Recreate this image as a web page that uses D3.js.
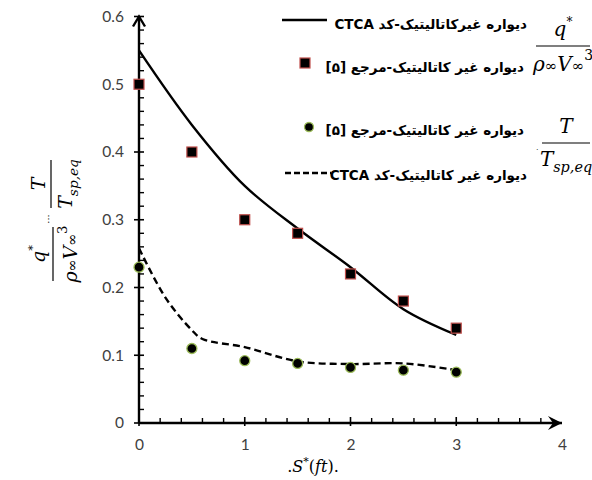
<!DOCTYPE html>
<html><head><meta charset="utf-8">
<script src="https://cdn.jsdelivr.net/npm/d3@7"></script>
<style>body{margin:0;background:#fff}</style>
</head><body>
<svg id="c" width="592" height="480"></svg>
<script>
// Data
const sValues = [0, 0.5, 1, 1.5, 2, 2.5, 3];
const refHeatFlux = [0.5, 0.4, 0.3, 0.28, 0.22, 0.18, 0.14];
const refTemp = [0.23, 0.11, 0.092, 0.088, 0.082, 0.078, 0.075];
const ctcaHeatX = [0, 0.5, 1, 1.5, 2, 2.5, 3];
const ctcaHeatY = [0.55, 0.44, 0.35, 0.287, 0.23, 0.168, 0.13];
const ctcaTempX = [0, 0.25, 0.5, 0.6, 1, 1.5, 2, 2.5, 3];
const ctcaTempY = [0.258, 0.185, 0.137, 0.124, 0.112, 0.091, 0.087, 0.088, 0.078];
const xTicks = [0, 1, 2, 3, 4];
const yTicks = [0, 0.1, 0.2, 0.3, 0.4, 0.5, 0.6];
const legendLabels = ["دیواره غیرکاتالیتیک-کد CTCA", "دیواره غیر کاتالیتیک-مرجع [۵]", "دیواره غیر کاتالیتیک-مرجع [۵]", "دیواره غیر کاتالیتیک-کد CTCA"];

const svg = d3.select("#c");
const x = d3.scaleLinear([0, 4], [139, 562]);
const y = d3.scaleLinear([0, 0.6], [423, 16.5]);
const tickFont = "Lato, 'Open Sans', sans-serif";

// Minor ticks
const xMinor = d3.range(0, 4.0001, 0.2).filter(v => Math.abs(v - Math.round(v)) > 1e-6);
const yMinor = d3.range(0, 0.6001, 0.02).filter(v => Math.abs(v*10 - Math.round(v*10)) > 1e-6);

const gx = svg.append("g").attr("transform", `translate(0,${y(0)})`);
gx.call(d3.axisBottom(x).tickValues(xTicks).tickSize(0).tickPadding(16).tickFormat(d3.format("d")));
gx.select(".domain").remove();
gx.selectAll("text").attr("font-family", tickFont).attr("font-size", 15.5).attr("fill", "#404040");
gx.selectAll(".mj").data(xTicks.slice(0, 4)).join("line")
  .attr("x1", d => x(d)).attr("x2", d => x(d)).attr("y1", -6).attr("y2", 3)
  .attr("stroke", "#000").attr("stroke-width", 1.6);
gx.selectAll(".mn").data(xMinor).join("line")
  .attr("x1", d => x(d)).attr("x2", d => x(d)).attr("y1", -5).attr("y2", 0)
  .attr("stroke", "#000").attr("stroke-width", 1.4);

const gy = svg.append("g").attr("transform", `translate(${x(0)},0)`);
gy.call(d3.axisLeft(y).tickValues(yTicks).tickSize(0).tickPadding(15).tickFormat(d => d === 0 ? "0" : d3.format(".1f")(d)));
gy.select(".domain").remove();
gy.selectAll("text").attr("font-family", tickFont).attr("font-size", 15.5).attr("fill", "#404040");
gy.selectAll(".mj").data(yTicks).join("line")
  .attr("y1", d => y(d)).attr("y2", d => y(d)).attr("x1", -5).attr("x2", 5)
  .attr("stroke", "#000").attr("stroke-width", 1.6);
gy.selectAll(".mn").data(yMinor).join("line")
  .attr("y1", d => y(d)).attr("y2", d => y(d)).attr("x1", 0).attr("x2", 5)
  .attr("stroke", "#000").attr("stroke-width", 1.4);

// axis lines with arrows
svg.append("line").attr("x1", x(0)).attr("x2", x(4)).attr("y1", y(0)).attr("y2", y(0)).attr("stroke", "#000").attr("stroke-width", 2.4);
svg.append("path").attr("d", `M${x(4)-14},${y(0)-7} L${x(4)},${y(0)} L${x(4)-14},${y(0)+7} L${x(4)-9},${y(0)} Z`).attr("fill", "#000");
svg.append("line").attr("x1", x(0)).attr("x2", x(0)).attr("y1", y(0)).attr("y2", y(0.6)).attr("stroke", "#000").attr("stroke-width", 2.4);
svg.append("path").attr("d", `M${x(0)-6},${y(0.6)+10} L${x(0)},${y(0.6)} L${x(0)+6},${y(0.6)+10}`).attr("fill", "none").attr("stroke", "#000").attr("stroke-width", 2.4);

// lines
const line = d3.line().x(d => x(d[0])).y(d => y(d[1])).curve(d3.curveCatmullRom.alpha(0.5));
svg.append("path").datum(ctcaHeatX.map((v, i) => [v, ctcaHeatY[i]])).attr("d", line)
  .attr("fill", "none").attr("stroke", "#000").attr("stroke-width", 2.4);
svg.append("path").datum(ctcaTempX.map((v, i) => [v, ctcaTempY[i]])).attr("d", line)
  .attr("fill", "none").attr("stroke", "#000").attr("stroke-width", 2.4).attr("stroke-dasharray", "7,4");

// markers
const sq = 10;
svg.selectAll(".sq").data(sValues.map((v, i) => [v, refHeatFlux[i]])).join("rect")
  .attr("x", d => x(d[0]) - sq/2).attr("y", d => y(d[1]) - sq/2).attr("width", sq).attr("height", sq)
  .attr("fill", "#000").attr("stroke", "#c0504d").attr("stroke-width", 1.2);
svg.selectAll(".ci").data(sValues.map((v, i) => [v, refTemp[i]])).join("circle")
  .attr("cx", d => x(d[0])).attr("cy", d => y(d[1])).attr("r", 5)
  .attr("fill", "#000").attr("stroke", "#9bbb59").attr("stroke-width", 1.3);

// legend
const lg = svg.append("g");
const faFont = "'DejaVu Sans', sans-serif";
const legY = [25, 68, 131, 176];
const legTextX = [527, 524, 524, 527];
legendLabels.forEach((t, i) => {
  lg.append("text").attr("x", legTextX[i]).attr("y", legY[i] + 4).attr("direction", "rtl")
    .attr("text-anchor", "start").attr("font-family", faFont).attr("font-weight", "bold")
    .attr("font-size", 13.5).attr("fill", "#000").text(t);
});
lg.append("line").attr("x1", 282).attr("x2", 327).attr("y1", 20).attr("y2", 20).attr("stroke", "#000").attr("stroke-width", 2.4);
lg.append("rect").attr("x", 300).attr("y", 58).attr("width", 10).attr("height", 10).attr("fill", "#000").attr("stroke", "#c0504d").attr("stroke-width", 1.2);
lg.append("circle").attr("cx", 309).attr("cy", 127).attr("r", 4.5).attr("fill", "#000").attr("stroke", "#9bbb59").attr("stroke-width", 1.3);
lg.append("line").attr("x1", 285).attr("x2", 331).attr("y1", 173).attr("y2", 173).attr("stroke", "#000").attr("stroke-width", 2.4).attr("stroke-dasharray", "6,3");

const mf = "'DejaVu Serif', 'Liberation Serif', serif";
function fracQ(g, cx, numBase, barY, denBase, size) {
  const n = g.append("text").attr("x", cx).attr("y", numBase).attr("text-anchor", "middle")
    .attr("font-family", mf).attr("font-style", "italic").attr("font-size", size);
  n.append("tspan").text("q");
  n.append("tspan").attr("dy", -size*0.5).attr("font-size", size*0.6).attr("font-style", "normal").text("*");
  g.append("line").attr("x1", cx - 27).attr("x2", cx + 27).attr("y1", barY).attr("y2", barY).attr("stroke", "#000").attr("stroke-width", 1.2);
  const d = g.append("text").attr("x", cx).attr("y", denBase).attr("text-anchor", "middle")
    .attr("font-family", mf).attr("font-style", "italic").attr("font-size", size);
  d.append("tspan").text("ρ");
  d.append("tspan").attr("font-style", "normal").attr("font-size", size*0.75).text("∞");
  d.append("tspan").text("V");
  d.append("tspan").attr("font-style", "normal").attr("font-size", size*0.75).text("∞");
  d.append("tspan").attr("dy", -size*0.55).attr("font-size", size*0.7).attr("font-style", "normal").text("3");
}
function fracT(g, cx, numBase, barY, denBase, size) {
  g.append("text").attr("x", cx).attr("y", numBase).attr("text-anchor", "middle")
    .attr("font-family", mf).attr("font-style", "italic").attr("font-size", size).text("T");
  g.append("line").attr("x1", cx - 24).attr("x2", cx + 24).attr("y1", barY).attr("y2", barY).attr("stroke", "#000").attr("stroke-width", 1.2);
  const d = g.append("text").attr("x", cx).attr("y", denBase).attr("text-anchor", "middle")
    .attr("font-family", mf).attr("font-style", "italic").attr("font-size", size);
  d.append("tspan").text("T");
  d.append("tspan").attr("dy", size*0.3).attr("font-size", size*0.72).text("sp,eq");
}
fracQ(svg.append("g"), 563, 36, 46, 71, 20);
fracT(svg.append("g"), 566, 133, 143, 166, 20);
svg.append("text").attr("x", 536).attr("y", 150).attr("font-size", 8).attr("font-family", mf).text(".");

// y-axis label (rotated)
const yl = svg.append("g").attr("transform", "rotate(-90)");
fracQ(yl, -254, 45, 53, 77, 19);
fracT(yl, -184, 45, 51, 72, 19);
yl.append("text").attr("x", -219).attr("y", 52).attr("text-anchor", "middle").attr("font-size", 10).attr("font-family", mf).text("···");

// x-axis label
const xl = svg.append("text").attr("x", 313).attr("y", 472).attr("text-anchor", "middle")
  .attr("font-family", mf).attr("font-style", "italic").attr("font-size", 16);
xl.append("tspan").attr("font-style", "normal").text(".");
xl.append("tspan").text("S");
xl.append("tspan").attr("dy", -7).attr("font-size", 11).attr("font-style", "normal").text("*");
xl.append("tspan").attr("dy", 7).attr("font-style", "normal").text("(");
xl.append("tspan").text("ft");
xl.append("tspan").attr("font-style", "normal").text(").");
</script>
</body></html>
